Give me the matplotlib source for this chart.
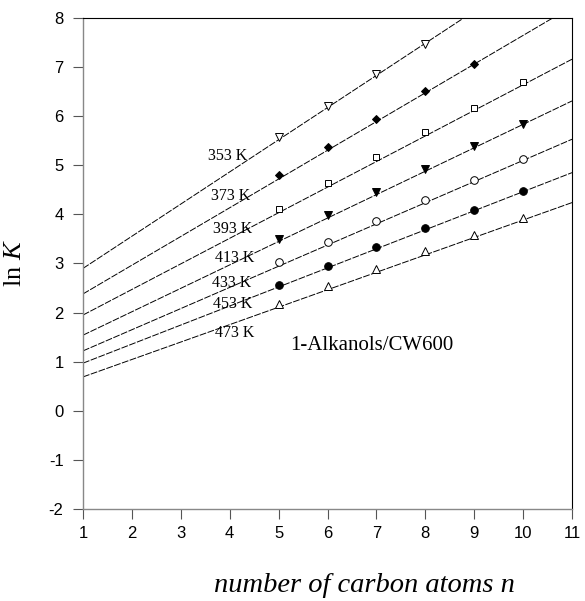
import matplotlib
matplotlib.use("Agg")
import matplotlib.pyplot as plt
import numpy as np

plt.rcParams["mathtext.fontset"] = "custom"
plt.rcParams["mathtext.rm"] = "Liberation Serif"
plt.rcParams["mathtext.it"] = "Liberation Serif:italic"

# ---- data ----
temperatures = ["353 K", "373 K", "393 K", "413 K", "433 K", "453 K", "473 K"]
n_353 = [5, 6, 7, 8]
lnK_353 = [5.58, 6.21, 6.85, 7.48]
n_373 = [5, 6, 7, 8, 9]
lnK_373 = [4.80, 5.37, 5.95, 6.51, 7.06]
n_393 = [5, 6, 7, 8, 9, 10]
lnK_393 = [4.10, 4.63, 5.17, 5.67, 6.17, 6.69]
n_413 = [5, 6, 7, 8, 9, 10]
lnK_413 = [3.50, 3.99, 4.45, 4.93, 5.39, 5.84]
n_433 = [5, 6, 7, 8, 9, 10]
lnK_433 = [3.02, 3.44, 3.87, 4.29, 4.70, 5.13]
n_453 = [5, 6, 7, 8, 9, 10]
lnK_453 = [2.56, 2.95, 3.33, 3.72, 4.09, 4.47]
n_473 = [5, 6, 7, 8, 9, 10]
lnK_473 = [2.17, 2.54, 2.89, 3.25, 3.59, 3.93]

# fitted (dashed) lines: ln K at n = 1 and n = 11
fit_n = [1, 11]
fit_at_1 = [2.90, 2.38, 1.95, 1.54, 1.22, 0.97, 0.69]
fit_at_11 = [9.45, 8.23, 7.16, 6.31, 5.53, 4.85, 4.24]

# label positions (data coords)
label_x = [3.55, 3.61, 3.65, 3.69, 3.63, 3.65, 3.69]
label_y = [5.19, 4.38, 3.70, 3.11, 2.60, 2.18, 1.59]

x_ticks = list(range(1, 12))
y_ticks = list(range(-2, 9))

series_n = [n_353, n_373, n_393, n_413, n_433, n_453, n_473]
series_y = [lnK_353, lnK_373, lnK_393, lnK_413, lnK_433, lnK_453, lnK_473]
markers = ["v", "D", "s", "v", "o", "o", "^"]
filled = [False, True, False, True, False, True, False]
msizes = [5.5, 4.5, 5, 5.5, 5.5, 5.5, 5.5]

fig = plt.figure(figsize=(5.85, 6.01), dpi=100)
ax = fig.add_axes([0.1419, 0.1531, 0.8359, 0.8170])

serif = ["Liberation Serif", "DejaVu Serif"]
sans = ["Liberation Sans", "DejaVu Sans"]

for i in range(len(temperatures)):
    ax.plot(fit_n, [fit_at_1[i], fit_at_11[i]], color="black", lw=0.7,
            linestyle=(0, (7, 1.5)), zorder=2)
    ax.plot(series_n[i], series_y[i], linestyle="none", marker=markers[i],
            markersize=msizes[i], markeredgewidth=0.7, markeredgecolor="black",
            markerfacecolor="black" if filled[i] else "white", zorder=3)
    ax.text(label_x[i], label_y[i], temperatures[i], family=serif, fontsize=11.5,
            ha="left", va="center", zorder=1)

ax.text(5.24, 1.32, "1-Alkanols/CW600", family=serif, fontsize=15,
        ha="left", va="center")

ax.set_xlim(1, 11)
ax.set_ylim(-2, 8)
ax.set_xticks(x_ticks)
ax.set_yticks(y_ticks)
ax.set_xticklabels([str(v) for v in x_ticks], family=sans, fontsize=12)
ax.set_yticklabels([str(v) for v in y_ticks], family=sans, fontsize=12)
ax.tick_params(direction="out", length=7, width=0.8, color="#555555")
ax.tick_params(axis="x", pad=5)
ax.tick_params(axis="y", pad=7)

for s in ["left", "bottom"]:
    ax.spines[s].set_color("#888888")
    ax.spines[s].set_linewidth(1.0)
for s in ["top", "right"]:
    ax.spines[s].set_color("black")
    ax.spines[s].set_linewidth(0.8)

fig.text(364 / 585, 1 - 586 / 601, "number of carbon atoms n", family=serif,
         style="italic", fontsize=20.5, ha="center", va="center")
ax.set_ylabel(r"ln $\mathit{K}$", family=serif, fontsize=19, labelpad=16)

fig.savefig("out.png", dpi=100)
